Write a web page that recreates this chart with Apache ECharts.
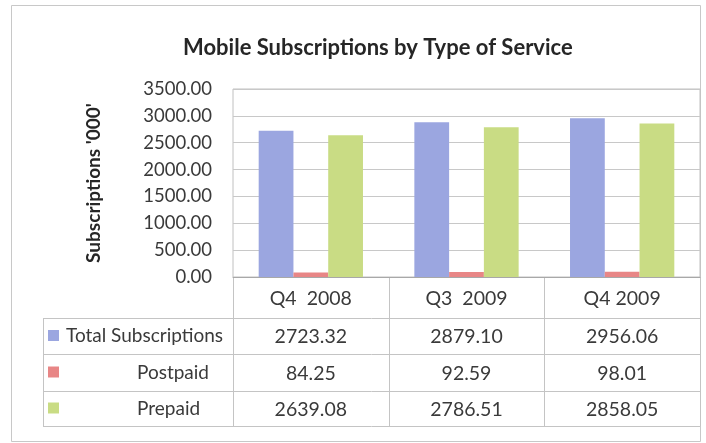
<!DOCTYPE html>
<html>
<head>
<meta charset="utf-8">
<script src="https://cdn.jsdelivr.net/npm/echarts@6/dist/echarts.min.js"></script>
<style>html,body{margin:0;padding:0;background:#fff;}#c{width:706px;height:443px;}</style>
</head>
<body>
<div id="c"></div>
<script>
const categories = ['Q4  2008', 'Q3  2009', 'Q4 2009'];
const seriesNames = ['Total Subscriptions', 'Postpaid', 'Prepaid'];
const totalSubs = [2723.32, 2879.10, 2956.06];
const postpaid = [84.25, 92.59, 98.01];
const prepaid = [2639.08, 2786.51, 2858.05];
const yMin = 0, yMax = 3500, yStep = 500;
const colors = ['#9ba6e0', '#e88686', '#c9dc84'];
const FONT = 'Lato';
const TXT = '#3a3a3a';

const chart = echarts.init(document.getElementById('c'), null, {renderer: 'canvas'});
const seriesData = [totalSubs, postpaid, prepaid];

const grid = {left: 233, right: 6, top: 89, bottom: 166};

chart.setOption({
  backgroundColor: '#fff',
  animation: false,
  title: {
    text: 'Mobile Subscriptions by Type of Service',
    left: 178, top: 32,
    textStyle: {fontFamily: FONT, fontWeight: 'bold', fontSize: 22, color: '#262626'}
  },
  grid: Object.assign({show: true, borderColor: '#c0c0c0', borderWidth: 1}, grid),
  xAxis: {
    type: 'category', data: categories,
    axisLine: {show: true, lineStyle: {color: '#a8a8a8'}},
    axisTick: {show: false},
    axisLabel: {show: false}
  },
  yAxis: {
    type: 'value', min: yMin, max: yMax, interval: yStep,
    name: "Subscriptions '000'", nameLocation: 'middle', nameGap: 130, nameRotate: 90,
    nameTextStyle: {fontFamily: FONT, fontWeight: 'bold', fontSize: 19, color: '#262626'},
    axisLine: {show: false}, axisTick: {show: false},
    axisLabel: {fontFamily: FONT, fontSize: 18.5, color: TXT, margin: 21,
      formatter: v => v.toFixed(2)},
    splitLine: {lineStyle: {color: '#c8c8c8'}}
  },
  series: seriesNames.map((n, i) => ({
    name: n, type: 'bar', data: seriesData[i],
    itemStyle: {color: colors[i]},
    barGap: '0%', barCategoryGap: '33%'
  }))
});

// Data table drawn below the plot, aligned to the category axis
const gr = 706 - grid.right;
const yAxisPix = 443 - grid.bottom;
const rowLines = [yAxisPix, 318, 354, 391, 426];
const tableLeft = 43;
const lineColor = '#c4c4c4';
const els = [];
const bounds = [];
const step = chart.convertToPixel({xAxisIndex: 0}, 1) - chart.convertToPixel({xAxisIndex: 0}, 0);
for (let i = 0; i <= categories.length; i++) {
  const x = i < categories.length ? chart.convertToPixel({xAxisIndex: 0}, i) - step / 2 : gr;
  bounds.push(Math.round(x) + 0.5);
}
bounds.forEach(x => els.push({type: 'line', shape: {x1: x, y1: yAxisPix, x2: x, y2: rowLines[4]}, style: {stroke: lineColor, lineWidth: 1}}));
els.push({type: 'line', shape: {x1: tableLeft + 0.5, y1: rowLines[1], x2: tableLeft + 0.5, y2: rowLines[4]}, style: {stroke: lineColor, lineWidth: 1}});
rowLines.slice(1).forEach(y => els.push({type: 'line', shape: {x1: tableLeft, y1: y + 0.5, x2: gr, y2: y + 0.5}, style: {stroke: lineColor, lineWidth: 1}}));
categories.forEach((c, i) => {
  const cx = chart.convertToPixel({xAxisIndex: 0}, i);
  els.push({type: 'text', x: cx, y: (rowLines[0] + rowLines[1]) / 2 + 1,
    style: {text: c, fontFamily: FONT, fontSize: 19.5, fill: TXT, align: 'center', verticalAlign: 'middle'}});
});
seriesNames.forEach((n, r) => {
  const cy = (rowLines[r + 1] + rowLines[r + 2]) / 2;
  els.push({type: 'rect', shape: {x: 48, y: cy - 6, width: 11, height: 11}, style: {fill: colors[r]}});
  els.push({type: 'text', x: r === 0 ? 66 : 137, y: cy,
    style: {text: n, fontFamily: FONT, fontSize: 19, fill: TXT, align: 'left', verticalAlign: 'middle'}});
  seriesData[r].forEach((v, i) => {
    const cx = chart.convertToPixel({xAxisIndex: 0}, i);
    els.push({type: 'text', x: cx, y: cy + 1,
      style: {text: v.toFixed(2), fontFamily: FONT, fontSize: 19.5, fill: TXT, align: 'center', verticalAlign: 'middle'}});
  });
});
els.push({type: 'rect', shape: {x: 11.5, y: 5.5, width: 689, height: 436}, style: {fill: null, stroke: '#c8c8c8', lineWidth: 1}, z: -1});
chart.setOption({graphic: {elements: els}});
</script>
</body>
</html>
